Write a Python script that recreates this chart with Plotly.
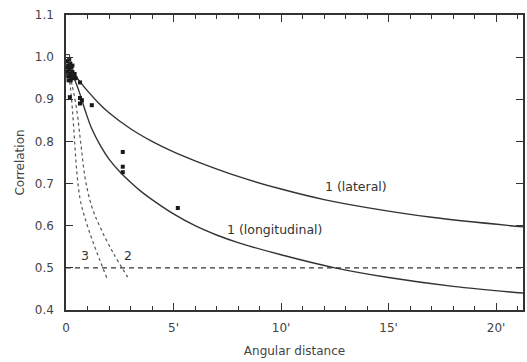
import plotly.graph_objects as go

# ---- data ----
lat_x = [0.3, 0.6, 1.0, 1.5, 2.0, 3.0, 4.0, 5.0, 6.0, 8.0, 10.0, 12.0, 14.0, 17.0, 21.3]
lat_y = [0.965, 0.945, 0.92, 0.892, 0.868, 0.83, 0.80, 0.775, 0.754, 0.717, 0.687, 0.662, 0.643, 0.620, 0.597]

lon_x = [0.3, 0.6, 0.9, 1.2, 1.6, 2.0, 2.5, 3.0, 3.5, 4.0, 5.0, 6.0, 7.0, 8.0, 10.0, 12.5, 15.0, 18.0, 21.3]
lon_y = [0.96, 0.92, 0.872, 0.83, 0.79, 0.758, 0.728, 0.703, 0.681, 0.662, 0.628, 0.60, 0.578, 0.56,
         0.531, 0.50, 0.477, 0.456, 0.44]

c2_x = [0.1, 0.3, 0.5, 0.7, 0.9, 1.2, 1.6, 2.2, 2.87]
c2_y = [0.97, 0.93, 0.875, 0.79, 0.71, 0.645, 0.595, 0.535, 0.478]

c3_x = [0.1, 0.2, 0.3, 0.4, 0.5, 0.65, 0.9, 1.3, 1.9]
c3_y = [0.97, 0.93, 0.875, 0.80, 0.73, 0.665, 0.615, 0.555, 0.476]

pts_x = [0.05, 0.1, 0.15, 0.2, 0.25, 0.3, 0.1, 0.35, 0.05, 0.2, 0.4, 0.15, 0.3, 0.12, 0.22,
         0.08, 0.28, 0.45, 0.18, 0.65, 0.74, 0.65, 0.65, 1.2, 2.64, 2.64, 2.64, 5.2]
pts_y = [0.99, 0.98, 0.97, 0.96, 0.975, 0.965, 0.955, 0.95, 0.965, 0.985, 0.96, 0.995, 0.98, 0.945, 0.945,
         0.975, 0.952, 0.95, 0.905, 0.94, 0.898, 0.903, 0.89, 0.886, 0.775, 0.74, 0.727, 0.642]

open_x = [0.05]
open_y = [1.0]

ref_level = 0.5
x_ticks = [0, 5, 10, 15, 20]
x_tick_text = ["0", "5'", "10'", "15'", "20'"]
x_minor = list(range(0, 22))
y_ticks = [0.4, 0.5, 0.6, 0.7, 0.8, 0.9, 1.0, 1.1]

labels = [
    (13.5, 0.692, "1 (lateral)"),
    (9.7, 0.59, "1 (longitudinal)"),
    (0.88, 0.53, "3"),
    (2.87, 0.53, "2"),
]

LINE = "#333333"
FAM = "DejaVu Sans, Arial, sans-serif"
FONT = dict(family=FAM, size=12, color="#444444")

fig = go.Figure()
fig.add_trace(go.Scatter(x=lat_x, y=lat_y, mode="lines", line=dict(color=LINE, width=1.4, shape="spline")))
fig.add_trace(go.Scatter(x=lon_x, y=lon_y, mode="lines", line=dict(color=LINE, width=1.4, shape="spline")))
fig.add_trace(go.Scatter(x=c2_x, y=c2_y, mode="lines", line=dict(color="#555555", width=1.2, dash="dot", shape="spline")))
fig.add_trace(go.Scatter(x=c3_x, y=c3_y, mode="lines", line=dict(color="#555555", width=1.2, dash="dot", shape="spline")))
fig.add_trace(go.Scatter(x=[0, 21.25], y=[ref_level, ref_level], mode="lines",
                         line=dict(color=LINE, width=1.2, dash="5px,4px")))
fig.add_trace(go.Scatter(x=pts_x, y=pts_y, mode="markers",
                         marker=dict(symbol="square", size=4, color="#1a1a1a")))
fig.add_trace(go.Scatter(x=open_x, y=open_y, mode="markers",
                         marker=dict(symbol="square-open", size=5, color="#333333")))

for x, y, t in labels:
    fig.add_annotation(x=x, y=y, text=t, showarrow=False, xref="x", yref="y",
                       font=dict(family=FAM, size=12.5, color="#333333"))

fig.update_layout(
    width=527, height=362,
    margin=dict(l=66, r=2, t=15, b=52),
    paper_bgcolor="white", plot_bgcolor="white",
    showlegend=False,
    font=FONT,
)
fig.update_xaxes(
    range=[0, 21.25], tickmode="array", tickvals=x_ticks, ticktext=x_tick_text,
    showline=True, linecolor=LINE, linewidth=1.5, mirror="ticks",
    ticks="inside", ticklen=7, tickcolor=LINE, tickwidth=1,
    minor=dict(tickmode="array", tickvals=x_minor, ticks="inside", ticklen=4,
               tickcolor=LINE, tickwidth=1),
    showgrid=False, zeroline=False, ticklabelstandoff=6,
    title=dict(text="Angular distance", standoff=12, font=dict(size=12)),
)
fig.update_yaxes(
    range=[0.4, 1.1], tickvals=y_ticks, tickformat=".1f",
    showline=True, linecolor=LINE, linewidth=1.5, mirror="ticks",
    ticks="inside", ticklen=7, tickcolor=LINE, tickwidth=1,
    showgrid=False, zeroline=False, ticklabelstandoff=8,
    title=dict(text="Correlation", standoff=8, font=dict(size=12)),
)

fig.write_html("out.html")
